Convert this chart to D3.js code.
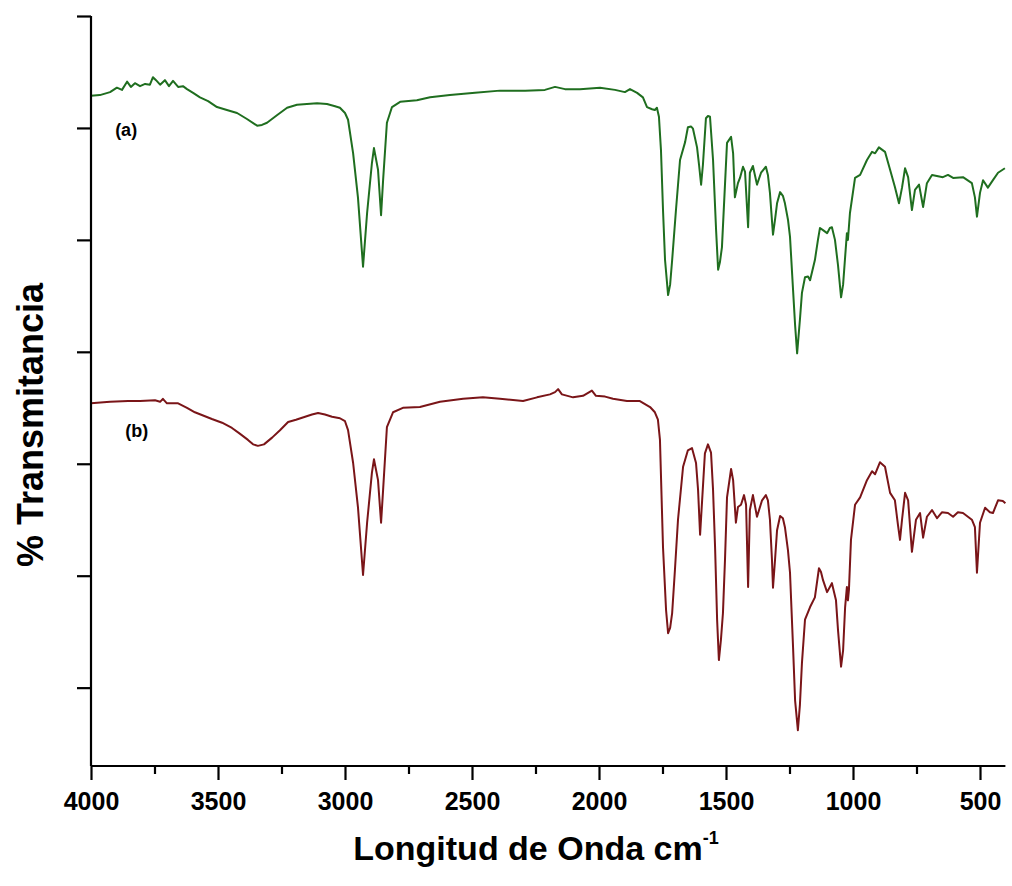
<!DOCTYPE html>
<html>
<head>
<meta charset="utf-8">
<script src="https://cdn.jsdelivr.net/npm/d3@7/dist/d3.min.js"></script>
<style>
  html, body { margin: 0; padding: 0; background: #fff; }
  svg { display: block; }
  text { font-family: Arial, "Liberation Sans", sans-serif; font-weight: bold; fill: #000; }
</style>
</head>
<body>
<svg id="chart" width="1012" height="886"></svg>
<script>
// ---- data (wavenumber cm^-1, % transmittance) ----
const xTicksMajor = [4000, 3500, 3000, 2500, 2000, 1500, 1000, 500];
const xTicksMinor = [3750, 3250, 2750, 2250, 1750, 1250, 750];
const yTicks = [10, 25, 40, 55, 70, 85, 100];
const seriesLabels = ["(a)", "(b)"];

const wavenumberA = [4000,3965,3925,3898,3878,3858,3843,3827,3807,3787,3768,3756,3744,3728,3709,3693,3677,3657,3638,3622,3598,3571,3539,3504,3465,3425,3386,3346,3327,3307,3268,3228,3189,3150,3110,3071,3039,3020,3000,2988,2968,2949,2929,2913,2894,2886,2870,2858,2850,2835,2815,2783,2717,2665,2587,2488,2390,2291,2213,2173,2134,2075,1996,1937,1898,1878,1850,1827,1811,1791,1780,1772,1764,1756,1748,1740,1728,1720,1712,1697,1681,1661,1650,1638,1630,1614,1606,1598,1591,1579,1571,1563,1551,1539,1531,1524,1516,1496,1480,1472,1465,1453,1445,1433,1425,1413,1406,1394,1378,1362,1343,1335,1327,1315,1307,1299,1287,1276,1268,1256,1248,1236,1228,1220,1209,1201,1189,1177,1169,1150,1138,1130,1114,1102,1091,1083,1071,1059,1047,1039,1031,1024,1020,1012,992,972,945,925,913,898,874,854,835,819,807,795,783,768,756,740,724,709,689,646,626,606,567,532,520,512,500,488,469,449,429,402];
const transmitA = [89.3,89.4,89.8,90.4,90.1,91.2,90.5,91.0,90.6,90.9,90.8,91.8,91.4,90.8,91.4,90.6,91.3,90.5,90.6,90.2,89.7,89.1,88.6,87.8,87.4,87.0,86.2,85.3,85.4,85.7,86.7,87.7,88.1,88.2,88.3,88.2,87.9,87.7,87.0,86.1,81.6,75.7,66.4,73.6,80.3,82.3,79.4,73.3,78.0,85.7,87.8,88.5,88.7,89.1,89.4,89.7,90.0,90.0,90.1,90.5,90.2,90.2,90.4,90.1,89.8,90.2,89.7,89.1,87.8,87.5,87.4,87.7,86.5,82.0,74.0,67.3,62.6,64.0,67.3,74.0,80.7,83.1,85.1,85.2,84.9,82.4,80.0,77.4,80.0,86.3,86.6,86.5,80.7,71.3,66.0,67.0,69.0,83.0,83.8,81.6,75.7,77.6,78.3,79.8,79.1,71.7,79.0,79.9,77.4,79.0,79.8,78.7,76.3,70.7,72.7,74.9,76.4,75.9,74.9,72.7,70.4,63.3,58.6,54.8,59.3,62.9,65.0,65.1,64.6,67.3,70.0,71.6,71.2,70.9,71.6,71.7,70.0,66.6,62.3,64.0,67.7,70.9,70.0,73.6,78.3,78.7,80.7,81.8,81.6,82.4,81.8,79.4,77.1,74.9,77.0,79.6,78.4,74.0,76.7,77.4,74.4,77.6,78.7,78.4,78.7,78.3,78.4,77.6,75.7,73.1,76.3,78.0,77.0,78.0,79.0,79.6];

const wavenumberB = [4000,3925,3854,3807,3748,3728,3717,3701,3657,3622,3591,3524,3484,3445,3413,3382,3362,3343,3319,3287,3256,3224,3193,3157,3130,3106,3079,3051,3020,3000,2988,2968,2949,2929,2913,2894,2886,2870,2858,2850,2835,2811,2772,2705,2626,2535,2457,2390,2299,2244,2193,2173,2161,2146,2102,2063,2028,2012,1976,1945,1890,1839,1799,1780,1768,1760,1748,1736,1728,1720,1712,1701,1689,1669,1650,1634,1618,1610,1602,1594,1583,1571,1559,1551,1543,1535,1528,1520,1512,1504,1496,1480,1472,1461,1453,1441,1429,1421,1413,1406,1394,1378,1358,1343,1335,1327,1319,1315,1307,1299,1287,1276,1268,1256,1248,1236,1228,1217,1209,1201,1189,1169,1150,1134,1126,1118,1102,1083,1067,1059,1047,1039,1031,1024,1020,1016,1008,992,972,945,925,913,894,874,854,835,823,815,807,795,783,768,752,736,724,709,689,669,650,626,606,587,567,532,520,512,500,480,461,449,429,410,400];
const transmitB = [48.1,48.3,48.4,48.4,48.5,48.3,48.7,48.1,48.1,47.5,46.9,46.0,45.5,44.8,44.0,43.2,42.6,42.4,42.6,43.5,44.5,45.6,45.9,46.3,46.6,46.8,46.6,46.3,46.1,45.7,44.5,40.1,34.2,25.1,32.1,38.8,40.6,37.8,32.1,36.5,44.9,46.9,47.5,47.6,48.3,48.7,48.9,48.7,48.4,48.9,49.3,49.6,50.0,49.3,48.9,49.1,49.8,49.1,49.0,48.7,48.4,48.4,47.6,46.9,45.9,43.2,28.8,20.4,17.3,18.0,20.0,25.8,32.5,39.6,41.8,42.1,40.1,36.5,30.5,35.1,41.4,42.6,41.5,36.5,28.8,19.1,13.7,16.4,20.0,27.1,35.5,39.3,37.8,32.1,34.2,34.5,35.8,34.5,23.5,33.8,35.8,32.9,35.1,35.8,35.1,32.5,27.1,23.4,27.1,31.1,33.0,32.7,31.5,28.4,25.4,15.4,8.3,4.3,7.7,13.3,19.1,20.8,22.1,26.0,25.5,24.4,22.8,24.0,21.7,17.7,12.8,15.0,20.8,23.5,21.7,23.1,29.8,34.5,35.5,37.8,39.0,38.6,40.2,39.6,36.1,35.1,31.8,29.8,32.5,36.1,35.1,28.2,32.5,33.4,30.1,32.9,33.8,32.7,33.5,33.4,32.9,33.5,33.4,32.5,31.5,25.4,32.1,34.1,33.5,33.4,35.1,35.0,34.7];

const labelPosA = [3905, 83.9];   // where "(a)" sits, in data units
const labelPosB = [3865, 43.6];   // where "(b)" sits

// ---- layout ----
const svg = d3.select("#chart");
const x = d3.scaleLinear().domain([4000, 400]).range([91, 1005.4]);
const y = d3.scaleLinear().domain([-0.5, 100]).range([766, 16]);

const line = d3.line().x(d => x(d[0])).y(d => y(d[1]));
const dataA = wavenumberA.map((w, i) => [w, transmitA[i]]);
const dataB = wavenumberB.map((w, i) => [w, transmitB[i]]);

svg.append("path").datum(dataA).attr("d", line)
  .attr("fill", "none").attr("stroke", "#1f6e1f").attr("stroke-width", 2).attr("stroke-linejoin", "round");
svg.append("path").datum(dataB).attr("d", line)
  .attr("fill", "none").attr("stroke", "#7a1518").attr("stroke-width", 2).attr("stroke-linejoin", "round");

// x axis
const gx = svg.append("g").attr("transform", "translate(0,766)");
gx.call(d3.axisBottom(x).tickValues(xTicksMajor).tickSize(14).tickSizeOuter(0).tickPadding(12).tickFormat(d3.format("d")));
gx.select(".domain").attr("stroke-width", 2.2).attr("d", `M${x(4000)},0H${x(400)}`);
gx.selectAll(".tick line").attr("stroke-width", 2.2);
gx.selectAll(".tick text").style("font-size", "25px").style("font-family", "Arial, 'Liberation Sans', sans-serif").style("font-weight", "bold");
const gxm = svg.append("g").attr("transform", "translate(0,766)");
gxm.call(d3.axisBottom(x).tickValues(xTicksMinor).tickSize(8).tickFormat(""));
gxm.select(".domain").remove();
gxm.selectAll(".tick line").attr("stroke-width", 2.2);

// y axis
const gy = svg.append("g").attr("transform", "translate(91,0)");
gy.call(d3.axisLeft(y).tickValues(yTicks).tickSize(14).tickSizeOuter(0).tickFormat(""));
gy.select(".domain").attr("stroke-width", 2.2).attr("d", `M0,${y(100)}V766`);
gy.selectAll(".tick line").attr("stroke-width", 2.2);

// titles
const xt = svg.append("text").attr("x", 536).attr("y", 860).attr("text-anchor", "middle").style("font-size", "34px");
xt.append("tspan").text("Longitud de Onda cm");
xt.append("tspan").attr("dy", -16).style("font-size", "18px").text("-1");

svg.append("text").attr("transform", "translate(43,425) rotate(-90)")
  .attr("text-anchor", "middle").style("font-size", "36px").text("% Transmitancia");

// series labels
svg.append("text").attr("x", x(labelPosA[0])).attr("y", y(labelPosA[1])).style("font-size", "18px").text(seriesLabels[0]);
svg.append("text").attr("x", x(labelPosB[0])).attr("y", y(labelPosB[1])).style("font-size", "18px").text(seriesLabels[1]);
</script>
</body>
</html>
